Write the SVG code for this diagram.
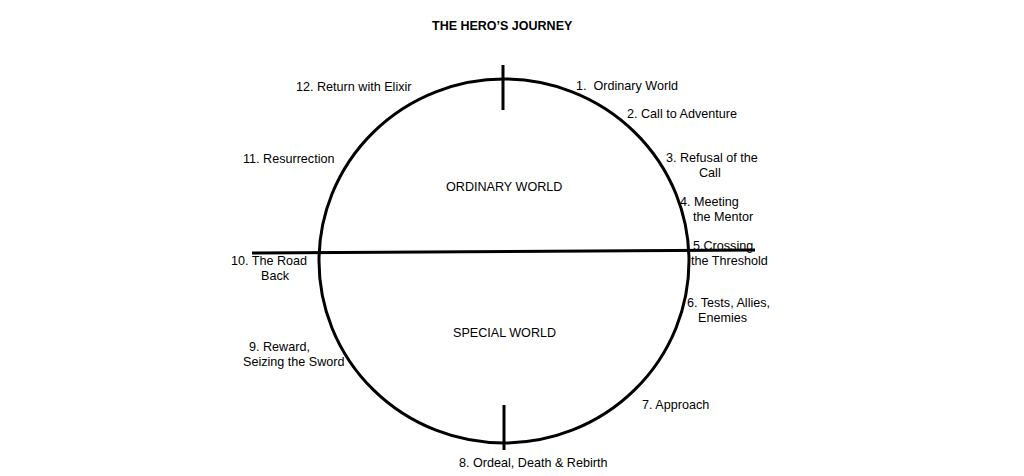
<svg xmlns="http://www.w3.org/2000/svg" width="1024" height="476" viewBox="0 0 1024 476">
<style>
text{font-family:"Liberation Sans",Arial,sans-serif;font-size:12.6px;fill:#000}
.title{font-weight:bold;font-size:12.5px}
.ln{stroke:#000;stroke-width:3;fill:none}
</style>
<rect width="1024" height="476" fill="#fff"/>
<text class="title" x="432" y="30">THE HERO’S JOURNEY</text>
<g id="connectors">
<ellipse class="ln" cx="504" cy="261" rx="185" ry="182"/>
<line class="ln" x1="252" y1="253" x2="755" y2="250"/>
<line class="ln" x1="503" y1="65" x2="503" y2="110"/>
<line class="ln" x1="504" y1="405" x2="504" y2="450"/>
</g>
<g id="ordinary-world"><text x="446" y="191">ORDINARY WORLD</text></g>
<g id="special-world"><text x="453" y="337">SPECIAL WORLD</text></g>
<g id="s1"><text x="576" y="90" xml:space="preserve">1.  Ordinary World</text></g>
<g id="s2"><text x="627" y="118">2. Call to Adventure</text></g>
<g id="s3"><text x="666" y="162">3. Refusal of the</text><text x="699" y="177">Call</text></g>
<g id="s4"><text x="680" y="206">4. Meeting</text><text x="693" y="221">the Mentor</text></g>
<g id="s5"><text x="693" y="250">5.Crossing</text><text x="691" y="265">the Threshold</text></g>
<g id="s6"><text x="687" y="307">6. Tests, Allies,</text><text x="698" y="322">Enemies</text></g>
<g id="s7"><text x="642" y="409">7. Approach</text></g>
<g id="s8"><text x="459" y="467">8. Ordeal, Death &amp; Rebirth</text></g>
<g id="s9"><text x="249" y="351">9. Reward,</text><text x="243" y="366">Seizing the Sword</text></g>
<g id="s10"><text x="231" y="265">10. The Road</text><text x="261" y="280">Back</text></g>
<g id="s11"><text x="243" y="163">11. Resurrection</text></g>
<g id="s12"><text x="296" y="91">12. Return with Elixir</text></g>
</svg>
